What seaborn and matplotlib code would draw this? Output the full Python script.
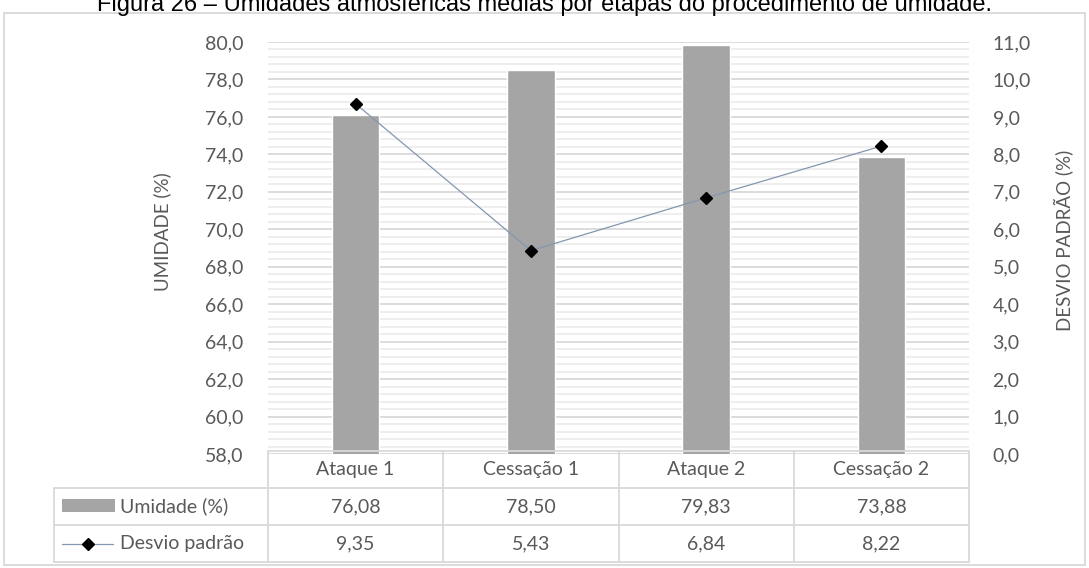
import numpy as np
import matplotlib
matplotlib.use("Agg")
import matplotlib.pyplot as plt
import seaborn as sns
from matplotlib.ticker import FuncFormatter, MultipleLocator
from matplotlib.patches import Rectangle
from matplotlib.lines import Line2D

# dados
etapas = ["Ataque 1", "Cessação 1", "Ataque 2", "Cessação 2"]
umidade = [76.08, 78.50, 79.83, 73.88]
desvio = [9.35, 5.43, 6.84, 8.22]
titulo = "Figura 26 – Umidades atmosféricas médias por etapas do procedimento de umidade."

sns.set_theme(style="white")
plt.rcParams["font.family"] = ["Lato", "DejaVu Sans"]

W, H = 1089, 568
fig = plt.figure(figsize=(W / 100, H / 100), dpi=100)

def fx(px):
    return px / W

def fy(py):
    return 1 - py / H

x0, x1, y0, y1 = 268, 969, 42, 454
ax = fig.add_axes([fx(x0), fy(y1), fx(x1) - fx(x0), fy(y0) - fy(y1)])
txt = "#595959"
grid_major = "#d9d9d9"
grid_minor = "#ededed"
fs = 14

sns.barplot(x=etapas, y=umidade, color="#a5a5a5", width=0.27, ax=ax,
            saturation=1, zorder=3)
ax.set_ylim(58, 80)
ax.set_xlim(-0.5, 3.5)
ax.yaxis.set_major_locator(MultipleLocator(2))
ax.yaxis.set_minor_locator(MultipleLocator(0.4))
ax.grid(which="major", axis="y", color=grid_major, lw=1.3, zorder=0)
ax.grid(which="minor", axis="y", color=grid_minor, lw=1.3, zorder=0)
ax.set_axisbelow(True)
fmt = FuncFormatter(lambda v, p: f"{v:.1f}".replace(".", ","))
ax.yaxis.set_major_formatter(fmt)
ax.tick_params(axis="y", which="both", length=0, labelsize=fs, colors=txt, pad=18)
ax.set_xticks([])
ax.set_xlabel("")
ax.set_ylabel("")
for s in ax.spines.values():
    s.set_visible(False)

ax2 = ax.twinx()
ax2.plot(range(len(etapas)), desvio, color="#8497b0", lw=0.9, marker="D",
         markersize=6.5, markerfacecolor="black", markeredgecolor="black", zorder=5)
ax2.set_ylim(0, 11)
ax2.yaxis.set_major_locator(MultipleLocator(1))
ax2.yaxis.set_major_formatter(fmt)
ax2.tick_params(axis="y", length=0, labelsize=fs, colors=txt, pad=17)
for s in ax2.spines.values():
    s.set_visible(False)
ax2.grid(False)

fig.text(fx(162), fy(232), "UMIDADE (%)", rotation=90, ha="center", va="center",
         fontsize=13.5, color=txt)
fig.text(fx(1063), fy(240), "DESVIO PADRÃO (%)", rotation=90, ha="center", va="center",
         fontsize=13.5, color=txt)

# tabela de dados
tl = "#d9d9d9"
rows_y = [451, 488, 525, 562]
col_w = (x1 - x0) / len(etapas)
cols_x = [x0 + i * col_w for i in range(len(etapas) + 1)]
lab_x = 54
fig.add_artist(Line2D([fx(x0), fx(x1)], [fy(rows_y[0])] * 2, color=tl, lw=1.3))
for yy in rows_y[1:]:
    fig.add_artist(Line2D([fx(lab_x), fx(x1)], [fy(yy)] * 2, color=tl, lw=1.3))
for xx in cols_x:
    fig.add_artist(Line2D([fx(xx)] * 2, [fy(rows_y[0]), fy(rows_y[-1])], color=tl, lw=1.3))
fig.add_artist(Line2D([fx(lab_x)] * 2, [fy(rows_y[1]), fy(rows_y[-1])], color=tl, lw=1.3))

for i, nome in enumerate(etapas):
    cx = fx(cols_x[i] + col_w / 2)
    fig.text(cx, fy((rows_y[0] + rows_y[1]) / 2), nome, ha="center", va="center",
             fontsize=fs, color=txt)
    fig.text(cx, fy((rows_y[1] + rows_y[2]) / 2), f"{umidade[i]:.2f}".replace(".", ","),
             ha="center", va="center", fontsize=fs, color=txt)
    fig.text(cx, fy((rows_y[2] + rows_y[3]) / 2), f"{desvio[i]:.2f}".replace(".", ","),
             ha="center", va="center", fontsize=fs, color=txt)

# chaves da legenda
fig.add_artist(Rectangle((fx(62), fy(512)), fx(115) - fx(62), fy(499) - fy(512),
                         color="#a5a5a5", lw=0))
fig.text(fx(120), fy(506), "Umidade (%)", ha="left", va="center", fontsize=fs, color=txt)
fig.add_artist(Line2D([fx(62), fx(113)], [fy(544)] * 2, color="#8497b0", lw=0.9))
fig.add_artist(Line2D([fx(87.5)], [fy(544)], marker="D", markersize=6.5,
                      markerfacecolor="black", markeredgecolor="black", lw=0))
fig.text(fx(120), fy(543), "Desvio padrão", ha="left", va="center", fontsize=fs, color=txt)

# moldura
fig.add_artist(Rectangle((fx(4), fy(565)), fx(1085) - fx(4), fy(13) - fy(565),
                         fill=False, edgecolor="#d9d9d9", lw=1.3))

fig.text(0.5, fy(11), titulo, ha="center", va="baseline", fontsize=17,
         family="Liberation Sans", color="black")

fig.savefig("out.png", dpi=100, facecolor="white")
